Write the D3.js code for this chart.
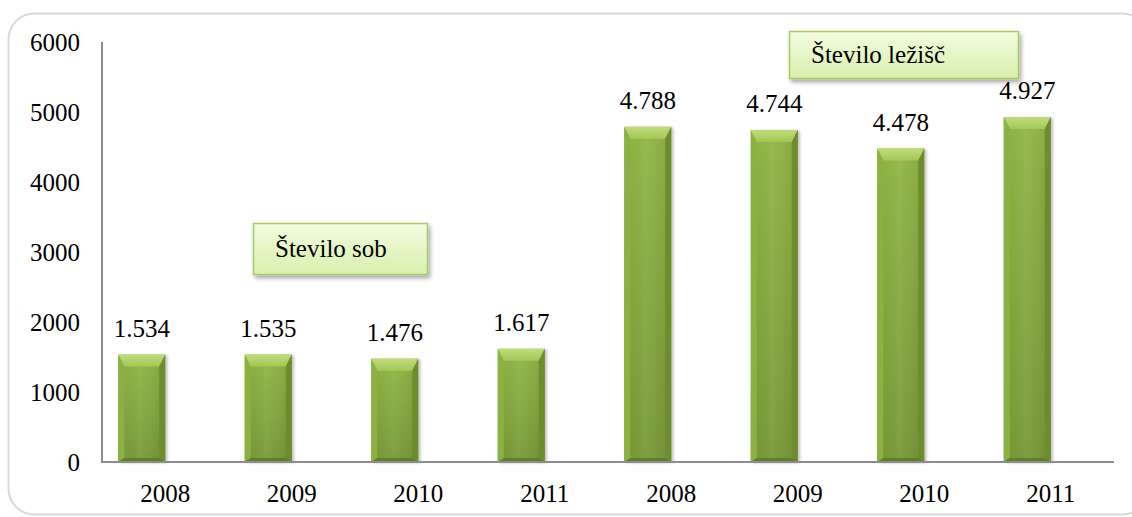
<!DOCTYPE html>
<html>
<head>
<meta charset="utf-8">
<script src="https://cdn.jsdelivr.net/npm/d3@7"></script>
<style>
  html, body { margin: 0; padding: 0; background: #fff; }
  svg { display: block; }
  svg text { font-family: "Liberation Serif", "Times New Roman", Times, serif; }
</style>
</head>
<body>
<svg id="chart" width="1132" height="517"></svg>
<script>
// Rooms (first four) and beds (last four) per year
const categories = ["2008", "2009", "2010", "2011", "2008", "2009", "2010", "2011"];
const values = [1534, 1535, 1476, 1617, 4788, 4744, 4478, 4927];
const yTicks = [0, 1000, 2000, 3000, 4000, 5000, 6000];
const groupLabels = ["Število sob", "Število ležišč"];

const FONT = "'Liberation Serif', 'Times New Roman', Times, serif";

const svg = d3.select("#chart");
const defs = svg.append("defs");

const plot = { left: 102, right: 1114, top: 42, bottom: 462 };

const x = d3.scaleBand()
  .domain(d3.range(categories.length))
  .range([plot.left, plot.right])
  .padding(0);

// Each category holds two slots; only the first carries a bar
const xSlot = d3.scaleBand()
  .domain(["count", "spare"])
  .range([0, x.bandwidth()])
  .paddingInner(0)
  .paddingOuter(0.346);

const y = d3.scaleLinear().domain([0, 6000]).range([plot.bottom, plot.top]);

const sl = d3.formatLocale({ decimal: ",", thousands: ".", grouping: [3], currency: ["", " €"] });
const fmt = sl.format(",");

// Gradients and shadows
const body = defs.append("linearGradient").attr("id", "barBody").attr("x1", 0).attr("y1", 0).attr("x2", 0).attr("y2", 1);
body.append("stop").attr("offset", "0%").attr("stop-color", "#90b645");
body.append("stop").attr("offset", "100%").attr("stop-color", "#779836");

const sideBody = defs.append("linearGradient").attr("id", "sideBody").attr("x1", 0).attr("y1", 0).attr("x2", 1).attr("y2", 0);
sideBody.append("stop").attr("offset", "0%").attr("stop-color", "#000").attr("stop-opacity", 0);
sideBody.append("stop").attr("offset", "45%").attr("stop-color", "#fff").attr("stop-opacity", 0.06);
sideBody.append("stop").attr("offset", "100%").attr("stop-color", "#000").attr("stop-opacity", 0.08);

const topBevel = defs.append("linearGradient").attr("id", "topBevel").attr("x1", 0).attr("y1", 0).attr("x2", 0).attr("y2", 1);
topBevel.append("stop").attr("offset", "0%").attr("stop-color", "#c0dc7c");
topBevel.append("stop").attr("offset", "100%").attr("stop-color", "#a3c655");

const boxFill = defs.append("linearGradient").attr("id", "boxFill").attr("x1", 0).attr("y1", 0).attr("x2", 0).attr("y2", 1);
boxFill.append("stop").attr("offset", "0%").attr("stop-color", "#f2fbdf");
boxFill.append("stop").attr("offset", "100%").attr("stop-color", "#d9f0ae");

const shadow = defs.append("filter").attr("id", "shadow").attr("x", "-20%").attr("y", "-20%").attr("width", "150%").attr("height", "150%");
shadow.append("feGaussianBlur").attr("in", "SourceAlpha").attr("stdDeviation", 2);
shadow.append("feOffset").attr("dx", 2).attr("dy", 3).attr("result", "off");
shadow.append("feComponentTransfer").append("feFuncA").attr("type", "linear").attr("slope", 0.35);
const merge = shadow.append("feMerge");
merge.append("feMergeNode");
merge.append("feMergeNode").attr("in", "SourceGraphic");

const barShadow = defs.append("filter").attr("id", "barShadow").attr("x", "-20%").attr("y", "-10%").attr("width", "150%").attr("height", "130%");
barShadow.append("feGaussianBlur").attr("in", "SourceAlpha").attr("stdDeviation", 1.5);
barShadow.append("feOffset").attr("dx", 2).attr("dy", 1);
barShadow.append("feComponentTransfer").append("feFuncA").attr("type", "linear").attr("slope", 0.25);
const merge2 = barShadow.append("feMerge");
merge2.append("feMergeNode");
merge2.append("feMergeNode").attr("in", "SourceGraphic");

// Outer rounded frame
svg.append("rect")
  .attr("x", 8.5).attr("y", 13.5).attr("width", 1140).attr("height", 501)
  .attr("rx", 26).attr("ry", 26)
  .attr("fill", "none").attr("stroke", "#d9d9d9").attr("stroke-width", 2);

// Y axis labels
svg.append("g").selectAll("text")
  .data(yTicks)
  .join("text")
  .attr("x", 80)
  .attr("y", d => y(d))
  .attr("dy", "0.35em")
  .attr("text-anchor", "end")
  .attr("font-family", FONT)
  .attr("font-size", 25)
  .attr("fill", "#000")
  .text(d => d);

// Bars with bevelled edges
const bars = svg.append("g").selectAll("g.bar")
  .data(values.map((v, i) => ({ v, i })))
  .join("g")
  .attr("class", "bar")
  .attr("filter", "url(#barShadow)");

bars.each(function(d) {
  const g = d3.select(this);
  const x0 = x(d.i) + xSlot("count");
  const x1 = x0 + xSlot.bandwidth();
  const y0 = y(d.v);
  const y1 = y(0);
  const bt = 12, bs = 6, bb = 4;
  g.append("rect").attr("x", x0).attr("y", y0).attr("width", x1 - x0).attr("height", y1 - y0).attr("fill", "url(#barBody)");
  g.append("rect").attr("x", x0).attr("y", y0).attr("width", x1 - x0).attr("height", y1 - y0).attr("fill", "url(#sideBody)");
  const poly = (pts, fill) => g.append("polygon").attr("points", pts.map(p => p.join(",")).join(" ")).attr("fill", fill);
  poly([[x0, y0], [x1, y0], [x1 - bs, y0 + bt], [x0 + bs, y0 + bt]], "url(#topBevel)");
  poly([[x0, y0], [x0 + bs, y0 + bt], [x0 + bs, y1 - bb], [x0, y1]], "#8ab143");
  poly([[x1, y0], [x1, y1], [x1 - bs, y1 - bb], [x1 - bs, y0 + bt]], "#6c8c2f");
  poly([[x0, y1], [x0 + bs, y1 - bb], [x1 - bs, y1 - bb], [x1, y1]], "#627d2a");
});

// Value labels
svg.append("g").selectAll("text")
  .data(values.map((v, i) => ({ v, i })))
  .join("text")
  .attr("x", d => x(d.i) + xSlot("count") + xSlot.bandwidth() / 2)
  .attr("y", d => y(d.v) - 18)
  .attr("text-anchor", "middle")
  .attr("font-family", FONT)
  .attr("font-size", 25)
  .attr("fill", "#000")
  .text(d => fmt(d.v));

// Axis lines
svg.append("line")
  .attr("x1", plot.left).attr("x2", plot.left)
  .attr("y1", plot.top).attr("y2", plot.bottom)
  .attr("stroke", "#8c8c8c").attr("stroke-width", 2);
svg.append("line")
  .attr("x1", plot.left - 1).attr("x2", plot.right)
  .attr("y1", plot.bottom).attr("y2", plot.bottom)
  .attr("stroke", "#8c8c8c").attr("stroke-width", 2);

// Category labels
svg.append("g").selectAll("text")
  .data(categories.map((c, i) => ({ c, i })))
  .join("text")
  .attr("x", d => x(d.i) + x.bandwidth() / 2)
  .attr("y", 502)
  .attr("text-anchor", "middle")
  .attr("font-family", FONT)
  .attr("font-size", 25)
  .attr("fill", "#000")
  .text(d => d.c);

// Group captions
const captions = [
  { text: groupLabels[0], x: 253, y: 223, w: 174, h: 51 },
  { text: groupLabels[1], x: 789, y: 31, w: 229, h: 47 }
];
const cap = svg.append("g").selectAll("g")
  .data(captions)
  .join("g");
cap.append("rect")
  .attr("x", d => d.x + 0.5).attr("y", d => d.y + 0.5)
  .attr("width", d => d.w).attr("height", d => d.h)
  .attr("fill", "url(#boxFill)")
  .attr("stroke", "#a6c96a").attr("stroke-width", 1.5)
  .attr("filter", "url(#shadow)");
cap.append("text")
  .attr("x", d => d.x + 22)
  .attr("y", d => d.y + d.h / 2)
  .attr("dy", "0.35em")
  .attr("font-family", FONT)
  .attr("font-size", 25)
  .attr("fill", "#000")
  .text(d => d.text);
</script>
</body>
</html>
